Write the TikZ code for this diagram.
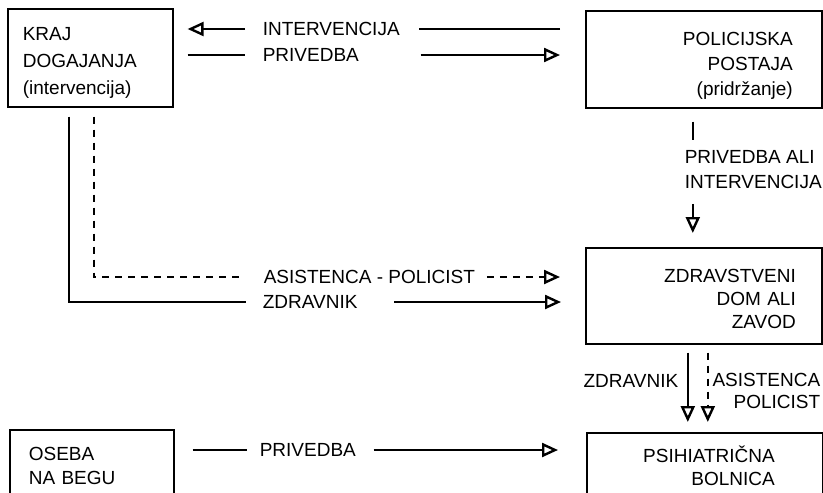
\documentclass[tikz,border=0pt]{standalone}
\usepackage{fontspec}
\setmainfont{Liberation Sans}
\usepackage{tikz}
\usetikzlibrary{arrows.meta}

\begin{document}
\begin{tikzpicture}[x=1pt, y=-1pt, line width=1.6pt,
  font=\fontsize{19}{25}\selectfont,
  box/.style={draw, anchor=north west, inner ysep=0pt},
  lbl/.style={inner sep=0pt},
  arr/.style={-{Triangle[open, length=16pt, width=14pt, line width=2.4pt]}},
  dashline/.style={dash pattern=on 7pt off 6pt}]

\useasboundingbox (0,0) rectangle (823,493);
\clip (0,0) rectangle (823,493);

\node[box, align=left, text width=135pt, inner xsep=15pt, text height=32pt, text depth=66pt,
  font=\fontsize{19}{27}\selectfont] (kraj) at (7,8) {KRAJ\\DOGAJANJA\\(intervencija)};
\node[box, align=right, text width=178pt, inner xsep=29pt, text height=35pt, text depth=62pt]
  (policija) at (585,10) {POLICIJSKA\\POSTAJA\\(pridržanje)};
\node[box, align=right, text width=184pt, inner xsep=26pt, text height=35pt, text depth=61pt,
  font=\fontsize{19}{23}\selectfont] (zdrav) at (585,247) {ZDRAVSTVENI\\DOM ALI\\ZAVOD};
\node[box, align=right, text width=140pt, inner xsep=48pt, text height=30pt, text depth=70pt,
  font=\fontsize{19}{23}\selectfont] (psih) at (586,432) {PSIHIATRIČNA\\BOLNICA};
\node[box, align=left, text width=126pt, inner xsep=19pt, text height=31pt, text depth=70pt,
  font=\fontsize{19}{24}\selectfont] (oseba) at (9,429) {OSEBA\\NA BEGU};

\node[lbl, anchor=west] (lint) at (262,29) {INTERVENCIJA};
\node[lbl, anchor=west] (lpriv) at (262,55) {PRIVEDBA};
\node[lbl, anchor=north west, align=left] (lvert) at (684,150) {PRIVEDBA ALI\\INTERVENCIJA};
\node[lbl, anchor=west] (lasis) at (263,277) {ASISTENCA - POLICIST};
\node[lbl, anchor=west] (lzdr) at (262,302) {ZDRAVNIK};
\node[lbl, anchor=east] (lzdr2) at (679,381) {ZDRAVNIK};
\node[lbl, anchor=north east, align=right, font=\fontsize{19}{22}\selectfont]
  (lasis2) at (821,372) {ASISTENCA\\POLICIST};
\node[lbl, anchor=west] (lpriv2) at (259,450) {PRIVEDBA};

\draw[shorten <=25pt, shorten >=19pt] (policija.west |- lint) -- (lint.east);
\draw[arr, shorten <=17pt, shorten >=14pt] (lint.west) -- (kraj.east |- lint);
\draw[shorten <=14pt, shorten >=17pt] (kraj.east |- lpriv) -- (lpriv.west);
\draw[arr, shorten <=61pt, shorten >=25pt] (lpriv.east) -- (policija.west |- lpriv);

\draw[shorten <=13pt, shorten >=10pt] ([xshift=-11pt]policija.south)
  -- ([xshift=-11pt]policija.south |- lvert.north);
\draw[arr, shorten <=14pt, shorten >=14pt] ([xshift=-11pt]policija.south |- lvert.south)
  -- ([xshift=-11pt]zdrav.north);

\draw[dashline, shorten <=9pt, shorten >=22pt] ([xshift=3.5pt]kraj.south) |- (lasis.west);
\draw[dashline, arr, shorten <=11pt, shorten >=25pt] (lasis.east) -- (zdrav.west |- lasis);
\draw[shorten <=9pt, shorten >=16pt] ([xshift=-21.5pt]kraj.south) |- (lzdr.west);
\draw[arr, shorten <=36pt, shorten >=24pt] (lzdr.east) -- (zdrav.west |- lzdr);

\draw[arr, shorten <=8pt, shorten >=10pt] ([xshift=-16pt]zdrav.south)
  -- ([xshift=-16pt]zdrav.south |- psih.north);
\draw[dashline, arr, shorten <=8pt, shorten >=10pt] ([xshift=4pt]zdrav.south)
  -- ([xshift=4pt]zdrav.south |- psih.north);

\draw[shorten <=18pt, shorten >=12pt] (oseba.east |- lpriv2) -- (lpriv2.west);
\draw[arr, shorten <=17pt, shorten >=28pt] (lpriv2.east) -- (psih.west |- lpriv2);

\end{tikzpicture}
\end{document}
